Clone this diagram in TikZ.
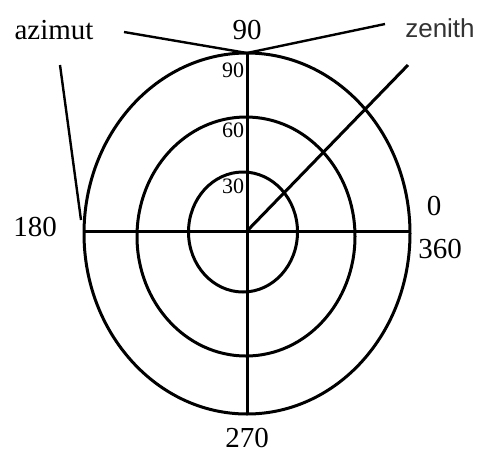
\documentclass[tikz,border=0pt]{standalone}
\usepackage{fontspec}
\setmainfont{Liberation Serif}
\newfontfamily\arialfont{Liberation Sans}
\definecolor{zengray}{RGB}{51,51,51}
\begin{document}
\begin{tikzpicture}[x=1pt,y=-1pt,line width=3pt,
  big/.style={font=\fontsize{29}{31}\selectfont,inner sep=0pt},
  small/.style={font=\fontsize{22}{23}\selectfont,inner sep=0pt},
  thin/.style={line width=2.4pt}]
\useasboundingbox (0,0) rectangle (477,459);
\coordinate (c) at (247,231);
\draw (247,233.5) ellipse [x radius=163, y radius=180.5];
\draw (246,236.5) ellipse [x radius=109, y radius=119.5];
\draw (243,232) ellipse [x radius=54.5, y radius=60];
\coordinate (top) at (247,53);
\coordinate (bot) at (247,414);
\coordinate (left) at (84,231);
\coordinate (right) at (409,231);
\draw (top) -- (bot);
\draw (left) -- (right);
\coordinate (zend) at (408,65);
\draw (c) -- (zend);
% labels
\node[big] (azimut) at (54,30) {azimut};
\node[big] (n90) at (247,30) {90};
\node[font=\arialfont\fontsize{26}{28}\selectfont,inner sep=0pt,text=zengray] (zenith) at (440,28) {zenith};
\node[small] (s90) at (233,70) {90};
\node[small] (s60) at (233,130) {60};
\node[small] (s30) at (233,186) {30};
\node[big] (n180) at (35,227) {180};
\node[big] (n0) at (434,206) {0};
\node[big] (n360) at (440,249) {360};
\node[big] (n270) at (247,438) {270};
% connector lines
\coordinate (a1) at (124,32);
\coordinate (z1) at (385,24);
\draw[thin] (a1) -- (top) -- (z1);
\coordinate (a2) at (60,65);
\coordinate (a3) at (81,220);
\draw[thin] (a2) -- (a3);
\end{tikzpicture}
\end{document}
